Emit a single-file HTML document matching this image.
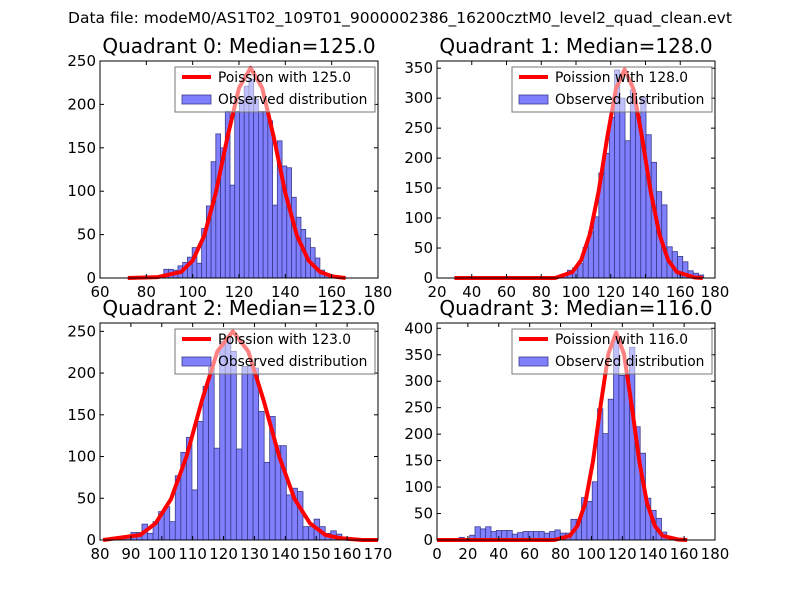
<!DOCTYPE html>
<html><head><meta charset="utf-8"><style>
body{margin:0;background:#fff;}
svg{display:block;font-family:"DejaVu Sans","Liberation Sans",sans-serif;}
</style></head><body>
<svg id="chart" width="800" height="600" viewBox="0 0 800 600">
<rect x="0" y="0" width="800" height="600" fill="#fff"/>
<text x="400" y="23" font-size="15.5" text-anchor="middle">Data file: modeM0/AS1T02_109T01_9000002386_16200cztM0_level2_quad_clean.evt</text>
</svg>
<script>
// ---- data ----
const titles = ["Quadrant 0: Median=125.0","Quadrant 1: Median=128.0","Quadrant 2: Median=123.0","Quadrant 3: Median=116.0"];
const legendLabels = ["Poission with 125.0","Poission with 128.0","Poission with 123.0","Poission with 116.0"];
const q0Counts = [3,10,10,9,14,18,24,35,17,57,83,134,166,150,192,107,192,204,221,229,206,192,192,181,84,158,129,127,93,70,56,46,35,23,9,5];
const q1Counts = [6,13,17,24,51,77,102,175,208,268,347,300,229,314,269,301,239,193,144,122,52,44,36,27,12,8,5];
const q2Counts = [2,4,4,9,9,19,8,22,34,40,22,77,105,123,60,142,184,207,110,238,242,226,109,208,208,206,154,93,148,113,113,54,62,58,16,16,25,16,8,11,7,2];
const q3Counts = [3,5,3,9,25,21,25,16,18,18,18,11,14,16,16,16,16,13,16,19,13,13,39,39,80,73,110,248,201,266,383,311,311,364,214,164,79,56,41,15];
const binStarts = [85.5, 92, 84.6, 10.8];
const binEnds = [159, 173.5, 160.1, 148.8];
const q0CurveX = [72,85,95,100,105,110,115,120,125,130,135,140,145,150,155,160,166];
const q0CurveY = [0,1,7,20,49,98,162,219,242,219,162,98,49,20,7,2,0];
const q1CurveX = [30,88,98,103,108,113,118,123,128,133,138,143,148,153,158,168,173];
const q1CurveY = [0,0,10,30,73,144,235,316,348,316,235,144,73,30,10,1,0];
const q2CurveX = [81,93,98,103,108,113,118,123,128,133,138,143,148,153,158,165,170];
const q2CurveY = [0,6,20,49,100,167,226,250,226,167,100,49,20,6,2,0,0];
const q3CurveX = [0,76,86,91,96,101,106,111,116,121,126,131,136,141,146,156,162];
const q3CurveY = [0,0,8,27,70,149,255,352,392,352,255,149,70,27,8,1,0];
const xTicks = [[60,80,100,120,140,160,180],[20,40,60,80,100,120,140,160,180],[80,90,100,110,120,130,140,150,160,170],[0,20,40,60,80,100,120,140,160,180]];
const yTicks = [[0,50,100,150,200,250],[0,50,100,150,200,250,300,350],[0,50,100,150,200,250],[0,50,100,150,200,250,300,350,400]];
const xRanges = [[60,180],[20,180],[80,170],[0,180]];
const yMaxes = [250,362,260,410];

const counts=[q0Counts,q1Counts,q2Counts,q3Counts];
const curvesX=[q0CurveX,q1CurveX,q2CurveX,q3CurveX];
const curvesY=[q0CurveY,q1CurveY,q2CurveY,q3CurveY];
const panels=[[100,61],[437,61],[100,323],[437,323]];
const W=278,H=217;
const NS="http://www.w3.org/2000/svg";
const svg=document.getElementById('chart');
function mk(tag,attrs,parent){const e=document.createElementNS(NS,tag);for(const k in attrs)e.setAttribute(k,attrs[k]);(parent||svg).appendChild(e);return e;}

for(let p=0;p<4;p++){
  const [L,T]=panels[p];
  const [x0,x1]=xRanges[p];
  const ym=yMaxes[p];
  const sx=v=>L+(v-x0)/(x1-x0)*W;
  const sy=v=>T+H-v/ym*H;
  const g=mk('g',{});
  
  
  const t=mk('text',{x:L+W/2,y:T-8,'font-size':20,'text-anchor':'middle'},g);
  t.textContent=titles[p];
  
  
  const c=counts[p];const bw=(binEnds[p]-binStarts[p])/c.length;
  for(let i=0;i<c.length;i++){
    const a=binStarts[p]+i*bw;
    const r=mk('rect',{x:sx(a),y:sy(c[i]),width:sx(a+bw)-sx(a),height:sy(0)-sy(c[i]),fill:'#8080ff',stroke:'#3a3a8a','stroke-width':0.8},g);
    
    
  }
  const cx=curvesX[p],cy=curvesY[p];
  let d='';for(let i=0;i<cx.length;i++)d+=(i?'L':'M')+sx(cx[i]).toFixed(1)+','+sy(cy[i]).toFixed(1);
  const pl=mk('path',{d:d,fill:'none',stroke:'#ff0000','stroke-width':4,'stroke-linejoin':'round'},g);
  
  
  mk('rect',{x:L,y:T,width:W,height:H,fill:'none',stroke:'#000','stroke-width':1},g);
  xTicks[p].forEach(v=>{
    const X=sx(v);
    mk('line',{x1:X,y1:T+H,x2:X,y2:T+H-4,stroke:'#000'},g);
    mk('line',{x1:X,y1:T,x2:X,y2:T+4,stroke:'#000'},g);
    const tx=mk('text',{x:X,y:T+H+19,'font-size':15,'text-anchor':'middle'},g);
    tx.textContent=v;
    
    
  });
  yTicks[p].forEach(v=>{
    const Y=sy(v);
    mk('line',{x1:L,y1:Y,x2:L+4,y2:Y,stroke:'#000'},g);
    mk('line',{x1:L+W,y1:Y,x2:L+W-4,y2:Y,stroke:'#000'},g);
    const ty=mk('text',{x:L-4,y:Y+5,'font-size':15,'text-anchor':'end'},g);
    ty.textContent=v;
    
    
  });
  const lg=mk('g',{},g);
  
  
  mk('rect',{x:L+75,y:T+6,width:200,height:45,fill:'rgba(255,255,255,0.5)',stroke:'#777','stroke-width':1},lg);
  mk('line',{x1:L+82,y1:T+16,x2:L+111,y2:T+16,stroke:'#ff0000','stroke-width':4},lg);
  const l1=mk('text',{x:L+118,y:T+21,'font-size':13.8},lg);l1.textContent=legendLabels[p];
  
  
  mk('rect',{x:L+82,y:T+34,width:29,height:9,fill:'#8080ff',stroke:'#3a3a8a','stroke-width':0.8},lg);
  const l2=mk('text',{x:L+118,y:T+43,'font-size':13.8},lg);l2.textContent='Observed distribution';
  
  
}
</script>
</body></html>
